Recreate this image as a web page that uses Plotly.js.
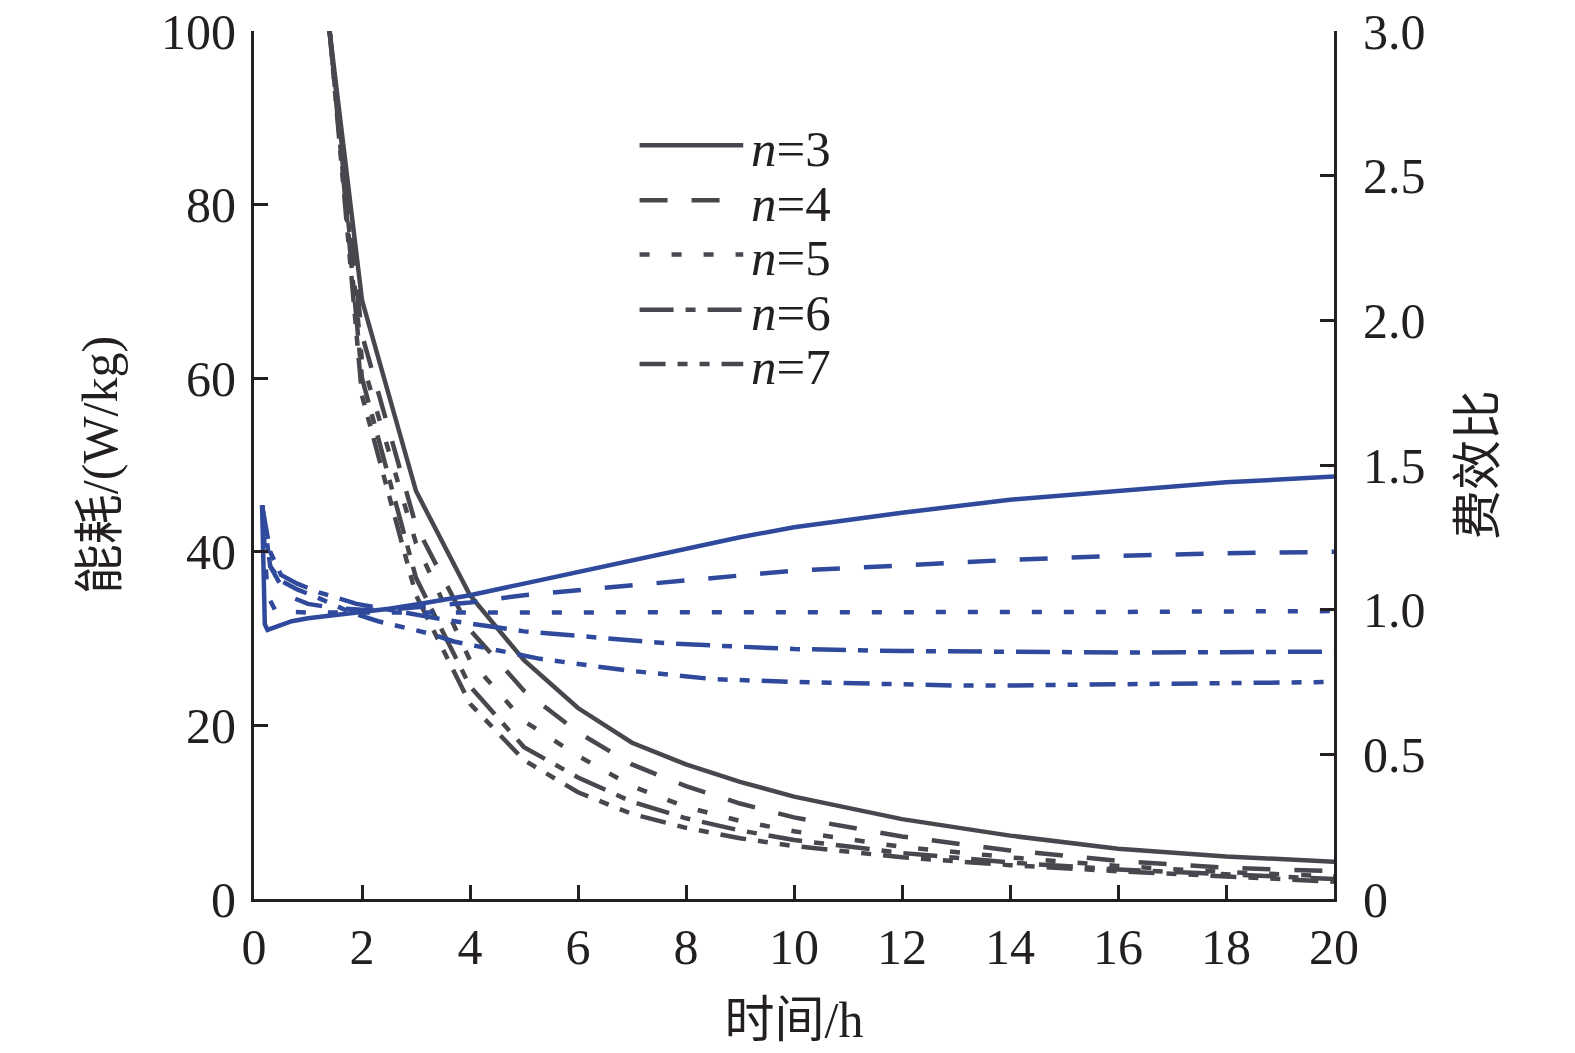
<!DOCTYPE html>
<html>
<head>
<meta charset="utf-8">
<script src="https://cdn.plot.ly/plotly-3.0.1.min.js"></script>
<style>
  html, body { margin: 0; padding: 0; background: #fff; }
  #chart { width: 1575px; height: 1053px; }
</style>
</head>
<body>
<div id="chart"></div>
<script>
// time axis (h) for the energy curves
var hourX = [1.4, 2, 3, 4, 5, 6, 7, 8, 9, 10, 12, 14, 16, 18, 20];

// energy consumption, W/kg (left axis)
var energyN3 = [100, 69, 47, 35, 27.5, 22, 18, 15.5, 13.5, 11.8, 9.2, 7.3, 5.8, 4.9, 4.3];
var energyN4 = [100, 65, 43, 31, 24, 19.2, 15.5, 13, 11, 9.4, 7.2, 5.6, 4.4, 3.6, 3.2];
var energyN5 = [100, 62, 41, 27.5, 20.5, 16.5, 13, 10.6, 9, 7.8, 6.0, 4.8, 3.8, 3.1, 2.6];
var energyN6 = [100, 60, 37, 24.5, 17.5, 14, 11.2, 9.3, 7.9, 6.8, 5.3, 4.2, 3.4, 2.8, 2.3];
var energyN7 = [100, 58, 35, 22.5, 16, 12.3, 9.8, 8.2, 7.0, 6.1, 4.8, 3.9, 3.2, 2.6, 2.0];

// cost-efficiency ratio (right axis)
var ratioX3 = [0.15, 0.2, 0.25, 0.4, 0.7, 1, 1.5, 2, 2.5, 3, 4, 5, 6, 7, 8, 9, 10, 12, 14, 16, 18, 20];
var ratioN3 = [1.36, 0.95, 0.93, 0.94, 0.96, 0.97, 0.98, 0.99, 1.003, 1.018, 1.05, 1.09, 1.13, 1.17, 1.21, 1.25, 1.285, 1.335, 1.38, 1.41, 1.44, 1.46];
var ratioX4 = [0.15, 0.3, 0.6, 1, 1.5, 2, 2.5, 3, 4, 5, 6, 7, 8, 9, 10, 12, 14, 16, 18, 20];
var ratioN4 = [1.36, 1.15, 1.05, 1.02, 1.005, 1.0, 1.0, 1.008, 1.025, 1.05, 1.067, 1.084, 1.10, 1.12, 1.135, 1.153, 1.172, 1.186, 1.195, 1.20];
var ratioX5 = [0.15, 0.25, 0.4, 1, 2, 4, 6, 8, 10, 12, 14, 16, 18, 20];
var ratioN5 = [1.36, 1.05, 0.995, 0.99, 0.99, 0.99, 0.99, 0.99, 0.99, 0.99, 0.99, 0.992, 0.994, 0.995];
var ratioX6 = [0.15, 0.3, 0.5, 0.8, 1.2, 1.9, 2.5, 3.5, 5, 6.5, 7.7, 9, 10, 12, 14, 16, 18, 20];
var ratioN6 = [1.36, 1.2, 1.12, 1.09, 1.06, 1.02, 1.0, 0.966, 0.925, 0.90, 0.883, 0.872, 0.864, 0.857, 0.853, 0.852, 0.853, 0.855];
var ratioX7 = [0.15, 0.3, 0.5, 0.8, 1.2, 1.8, 2.3, 3.3, 3.7, 5.3, 6.9, 8.5, 10, 11.6, 13, 14, 16, 18, 20];
var ratioN7 = [1.36, 1.15, 1.1, 1.07, 1.04, 0.99, 0.96, 0.915, 0.89, 0.83, 0.79, 0.76, 0.75, 0.742, 0.738, 0.738, 0.742, 0.745, 0.75];

var legendNames = ['<i>n</i>=3', '<i>n</i>=4', '<i>n</i>=5', '<i>n</i>=6', '<i>n</i>=7'];
var dashes = ['solid', '28px,24px', '10px,22px', '34px,12px,10px,12px', '26px,12px,10px,12px,10px,12px'];

var rightTickVals = [0, 0.5, 1.0, 1.5, 2.0, 2.5, 3.0];
var rightTickText = ['0', '0.5', '1.0', '1.5', '2.0', '2.5', '3.0'];

var gray = '#47484d';
var blue = '#2f4a9c';
var ink = '#231f20';
var font = 'Liberation Serif, Times New Roman, Noto Sans CJK SC, serif';

var energy = [energyN3, energyN4, energyN5, energyN6, energyN7];
var ratioXs = [ratioX3, ratioX4, ratioX5, ratioX6, ratioX7];
var ratios = [ratioN3, ratioN4, ratioN5, ratioN6, ratioN7];

var data = [];
for (var i = 0; i < 5; i++) {
    data.push({
        x: hourX, y: energy[i], type: 'scatter', mode: 'lines',
        line: {color: gray, width: 4.5, dash: dashes[i]},
        yaxis: 'y', showlegend: false
    });
}
for (var i = 0; i < 5; i++) {
    data.push({
        x: ratioXs[i], y: ratios[i], type: 'scatter', mode: 'lines',
        line: {color: blue, width: 4.5, dash: dashes[i]},
        yaxis: 'y2', showlegend: false
    });
}

// hand-made legend: sample lines + labels in paper coords
var rowY = [0.8685, 0.805, 0.7425, 0.679, 0.6165];
var shapes = [];
var annotations = [];
for (var i = 0; i < 5; i++) {
    shapes.push({
        type: 'line', xref: 'paper', yref: 'paper',
        x0: 0.357, x1: 0.453, y0: rowY[i], y1: rowY[i],
        line: {color: gray, width: 4.5, dash: dashes[i]}
    });
    annotations.push({
        xref: 'paper', yref: 'paper', x: 0.458, y: rowY[i] - 0.004,
        xanchor: 'left', yanchor: 'middle', showarrow: false,
        text: legendNames[i], font: {family: font, size: 51, color: ink}
    });
}

var axisCommon = {
    showgrid: false, zeroline: false, showline: true,
    linecolor: ink, linewidth: 3,
    ticks: 'inside', ticklen: 14, tickwidth: 3, tickcolor: ink,
    tickfont: {family: font, size: 50, color: ink}
};

var layout = {
    width: 1575, height: 1053,
    margin: {l: 254, r: 241, t: 31, b: 154},
    paper_bgcolor: '#fff', plot_bgcolor: '#fff',
    showlegend: false,
    xaxis: Object.assign({}, axisCommon, {
        range: [0, 20], dtick: 2, tick0: 0,
        ticklabelstandoff: 2,
        title: {text: '时间/h', font: {family: font, size: 50, color: ink}, standoff: 28}
    }),
    yaxis: Object.assign({}, axisCommon, {
        range: [0, 100], dtick: 20, tick0: 0,
        ticklabelstandoff: 5,
        title: {text: '能耗/(W/kg)', font: {family: font, size: 50, color: ink}, standoff: 28}
    }),
    yaxis2: Object.assign({}, axisCommon, {
        range: [0, 3], overlaying: 'y', side: 'right',
        tickmode: 'array', tickvals: rightTickVals, ticktext: rightTickText,
        ticklabelstandoff: 16,
        title: {text: '费效比', font: {family: font, size: 50, color: ink}, standoff: 36}
    }),
    shapes: shapes,
    annotations: annotations
};

Plotly.newPlot('chart', data, layout, {staticPlot: true});
</script>
</body>
</html>
